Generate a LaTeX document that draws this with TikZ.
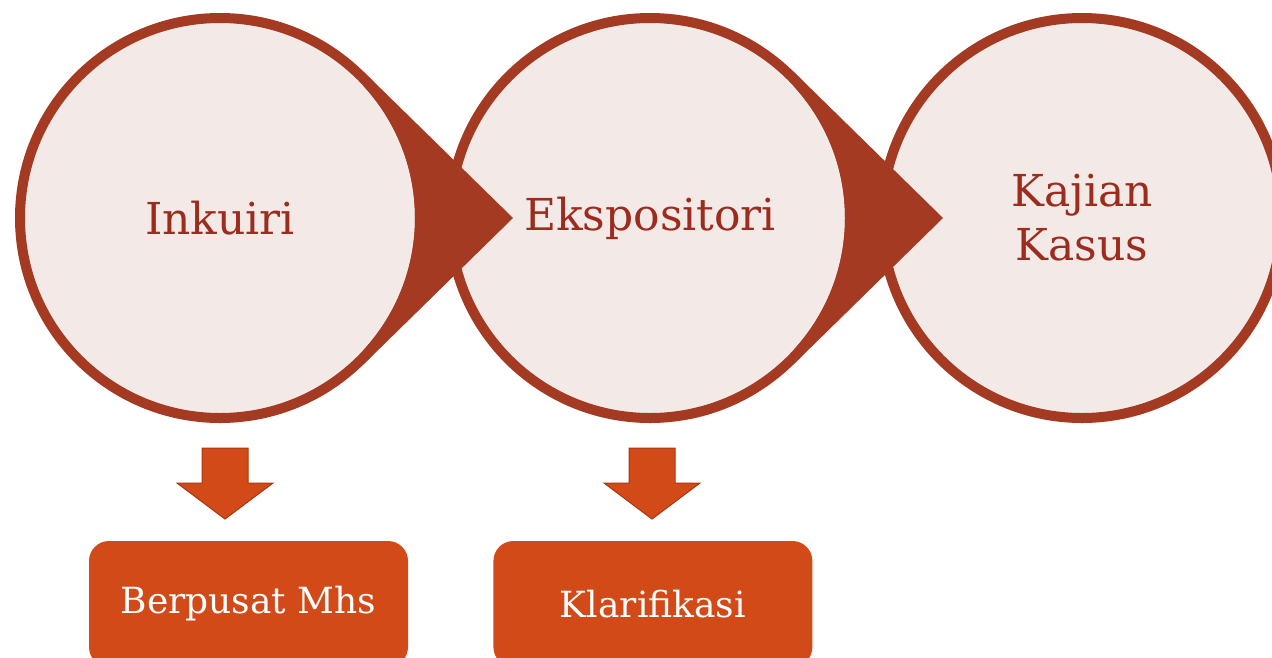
\documentclass[tikz,border=0pt]{standalone}
\usepackage{fontspec}
\setmainfont{DejaVu Serif}
\usepackage{tikz}
\usetikzlibrary{calc, positioning}
\definecolor{rim}{HTML}{A53A22}
\definecolor{disc}{HTML}{F3E9E7}
\definecolor{ink}{HTML}{9C2C1E}
\definecolor{flame}{HTML}{D14A18}
\definecolor{flameedge}{HTML}{A8380F}
\tikzstyle{stage} = [circle, draw=rim, line width=10pt, fill=disc, minimum size=400pt, inner sep=0pt, text=ink, align=center, font=\fontsize{44}{54}\selectfont]
\tikzstyle{result} = [rectangle, rounded corners=20pt, fill=flame, minimum width=319pt, minimum height=126pt, text=white, font=\fontsize{36}{42}\selectfont]
\tikzstyle{down} = [fill=flame, draw=flameedge, line width=1pt]

\begin{document}
\begin{tikzpicture}[x=1pt, y=-1pt]
		\useasboundingbox (0,0) rectangle (1272,657);
		% stages
		\node (Inkuiri) [stage] at (220,218) {Inkuiri};
		\node (Ekspositori) [stage, right = 20pt of Inkuiri] {Ekspositori};
		\node (Kajian) [stage, right = 22pt of Ekspositori] {Kajian\\Kasus};
		% pointers
		\foreach \from in {Inkuiri, Ekspositori} {
			\begin{scope}[even odd rule]
				\clip (0,0) rectangle (1272,657) (\from.center) circle (195pt);
				\fill [rim] ($(\from.center)+(45.6:205)$) -- ($(\from.center)+(293,0)$) -- ($(\from.center)+(-45.6:205)$) -- cycle;
			\end{scope}
		}
		% results
		\node (Berpusat) [result] at (248.5,604) {Berpusat Mhs};
		\node (Klarifikasi) [result, right = 85pt of Berpusat] {Klarifikasi};
		\coordinate (Arrow1) at (225,448);
		\coordinate (Arrow2) at (652,448);
		\foreach \a in {Arrow1, Arrow2}
			\draw [down] (\a) ++(-23,0) -- ++(46,0) -- ++(0,35) -- ++(25,0) -- ++(-48,36) -- ++(-48,-36) -- ++(25,0) -- cycle;
\end{tikzpicture}
\end{document}
